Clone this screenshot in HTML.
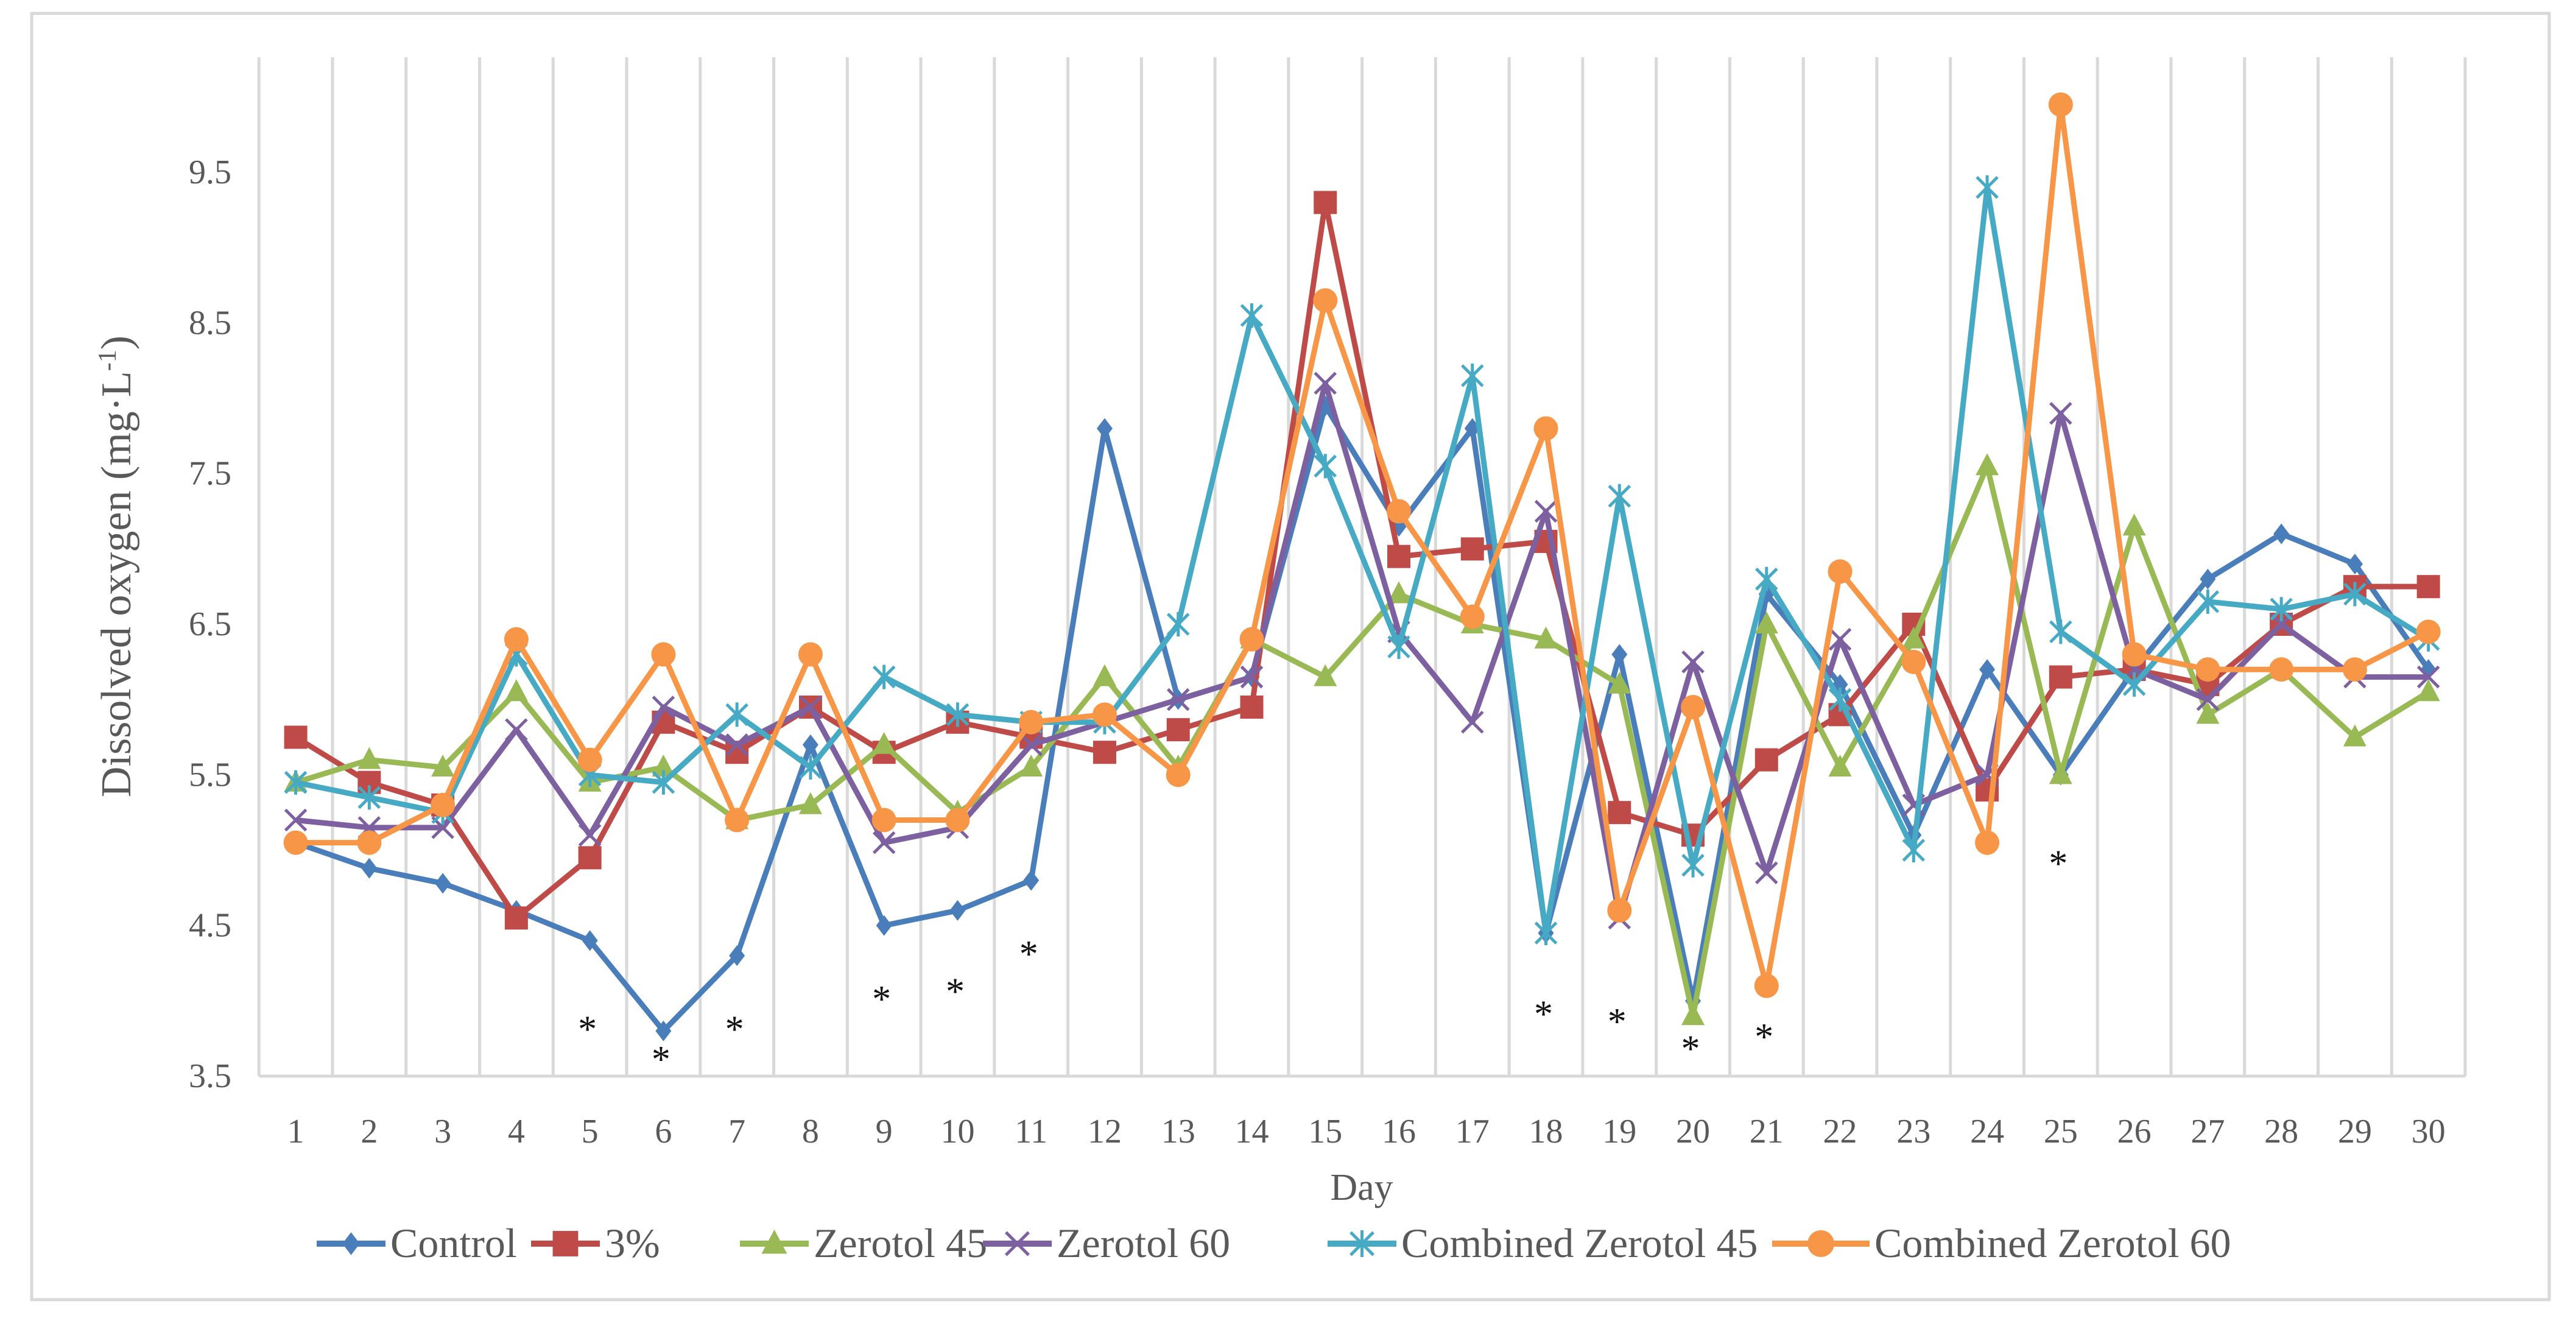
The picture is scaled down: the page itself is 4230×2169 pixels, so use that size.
<!DOCTYPE html>
<html><head><meta charset="utf-8"><style>
html,body{margin:0;padding:0;background:#fff;}
svg{display:block;font-family:"Liberation Serif",serif;}
</style></head><body>
<svg id="chart" width="4230" height="2169" viewBox="0 0 4230 2169" xmlns="http://www.w3.org/2000/svg">
<rect x="52" y="22" width="4134" height="2112" fill="#fff" stroke="#d9d9d9" stroke-width="5"/>
<g id="grid"></g><g id="axes"></g><g id="series"></g><g id="stars"></g><g id="legend"></g>
<text transform="translate(214,930) rotate(-90)" text-anchor="middle" font-size="70" fill="#595959">Dissolved oxygen (mg·L<tspan dy="-24" font-size="42">-1</tspan><tspan dy="24">)</tspan></text>
<text x="2236" y="1970" text-anchor="middle" font-size="62" fill="#595959">Day</text>
</svg>
<script>
const days = [1,2,3,4,5,6,7,8,9,10,11,12,13,14,15,16,17,18,19,20,21,22,23,24,25,26,27,28,29,30];
const yTicks = [3.5,4.5,5.5,6.5,7.5,8.5,9.5];
const seriesNames = ["Control","3%","Zerotol 45","Zerotol 60","Combined Zerotol 45","Combined Zerotol 60"];
const control = [5.05,4.88,4.78,4.6,4.4,3.8,4.3,5.7,4.5,4.6,4.8,7.8,6.0,6.15,7.95,7.15,7.8,4.45,6.3,4.0,6.7,6.1,5.1,6.2,5.5,6.2,6.8,7.1,6.9,6.2];
const pct3 = [5.75,5.45,5.3,4.55,4.95,5.85,5.65,5.95,5.65,5.85,5.75,5.65,5.8,5.95,9.3,6.95,7.0,7.05,5.25,5.1,5.6,5.9,6.5,5.4,6.15,6.2,6.1,6.5,6.75,6.75];
const zerotol45 = [5.45,5.6,5.55,6.05,5.45,5.55,5.2,5.3,5.7,5.25,5.55,6.15,5.55,6.4,6.15,6.7,6.5,6.4,6.1,3.9,6.5,5.55,6.4,7.55,5.5,7.15,5.9,6.2,5.75,6.05];
const zerotol60 = [5.2,5.15,5.15,5.8,5.1,5.95,5.7,5.95,5.05,5.15,5.7,5.85,6.0,6.15,8.1,6.45,5.85,7.25,4.55,6.25,4.85,6.4,5.3,5.5,7.9,6.2,6.0,6.5,6.15,6.15];
const combined45 = [5.45,5.35,5.25,6.3,5.5,5.45,5.9,5.55,6.15,5.9,5.85,5.85,6.5,8.55,7.55,6.35,8.15,4.45,7.35,4.9,6.8,6.0,5.0,9.4,6.45,6.1,6.65,6.6,6.7,6.4];
const combined60 = [5.05,5.05,5.3,6.4,5.6,6.3,5.2,6.3,5.2,5.2,5.85,5.9,5.5,6.4,8.65,7.25,6.55,7.8,4.6,5.95,4.1,6.85,6.25,5.05,9.95,6.3,6.2,6.2,6.2,6.45];
const starDays = [5,6,7,9,10,11,18,19,20,21,25];
const starValues = [3.85,3.65,3.85,4.05,4.1,4.35,3.95,3.9,3.72,3.8,4.95];

const NS="http://www.w3.org/2000/svg";
const X0=485.6, DX=120.76, Y0=1767, PY=(1767-283)/6;
const xs=d=>X0+(d-1)*DX;
const ys=v=>Y0-(v-3.5)*PY;
function mk(tag,attrs,parent){const e=document.createElementNS(NS,tag);for(const k in attrs)e.setAttribute(k,attrs[k]);parent.appendChild(e);return e;}
const grid=document.getElementById('grid'),axes=document.getElementById('axes'),ser=document.getElementById('series'),stars=document.getElementById('stars'),leg=document.getElementById('legend');
for(let i=0;i<=days.length;i++){
  const x=X0-DX/2+i*DX;
  const l=mk('line',{x1:x,x2:x,y1:94,y2:Y0,stroke:'#d9d9d9','stroke-width':5},grid);
  
  
}
const ax=mk('line',{x1:X0-DX/2,x2:X0-DX/2+days.length*DX,y1:Y0,y2:Y0,stroke:'#d9d9d9','stroke-width':5},axes);


yTicks.forEach(v=>{
  const t=mk('text',{x:380,y:ys(v)+18,'text-anchor':'end','font-size':56,fill:'#595959'},axes);t.textContent=v.toFixed(1);
  
  
});
days.forEach(d=>{
  const t=mk('text',{x:xs(d),y:1876,'text-anchor':'middle','font-size':56,fill:'#595959'},axes);t.textContent=d;
  
  
});
const colors=['#4a7ebb','#be4b48','#98b954','#7d60a0','#46aac5','#f79646'];
const data=[control,pct3,zerotol45,zerotol60,combined45,combined60];
const markers=['diamond','square','triangle','x','star','circle'];
function marker(type,x,y,c,g,s){
  s=s||1;
  if(type==='diamond')return mk('path',{d:`M${x} ${y-17*s}L${x+13*s} ${y}L${x} ${y+17*s}L${x-13*s} ${y}Z`,fill:c},g);
  if(type==='square')return mk('rect',{x:x-19*s,y:y-19*s,width:38*s,height:38*s,fill:c},g);
  if(type==='triangle')return mk('path',{d:`M${x} ${y-21*s}L${x+19*s} ${y+15*s}L${x-19*s} ${y+15*s}Z`,fill:c},g);
  if(type==='x')return mk('path',{d:`M${x-17*s} ${y-17*s}L${x+17*s} ${y+17*s}M${x+17*s} ${y-17*s}L${x-17*s} ${y+17*s}`,stroke:c,'stroke-width':5,fill:'none'},g);
  if(type==='star')return mk('path',{d:`M${x-17*s} ${y-17*s}L${x+17*s} ${y+17*s}M${x+17*s} ${y-17*s}L${x-17*s} ${y+17*s}M${x} ${y-20*s}L${x} ${y+20*s}`,stroke:c,'stroke-width':5,fill:'none'},g);
  return mk('circle',{cx:x,cy:y,r:20*s,fill:c},g);
}
data.forEach((arr,si)=>{
  const g=mk('g',{},ser);
  
  
  const p=mk('polyline',{points:arr.map((v,i)=>xs(days[i])+','+ys(v)).join(' '),fill:'none',stroke:colors[si],'stroke-width':9,'stroke-linejoin':'round'},g);
  
  
  arr.forEach((v,i)=>{
    const m=marker(markers[si],xs(days[i]),ys(v),colors[si],g);
    
    
  });
});
starDays.forEach((d,i)=>{
  const t=mk('text',{x:xs(d)-4,y:ys(starValues[i])+30,'text-anchor':'middle','font-size':62,fill:'#111'},stars);t.textContent='*';
  
  
});
const legX=[520,872,1215,1614,2180,2910];
seriesNames.forEach((n,i)=>{
  const g=mk('g',{},leg);
  
  
  const y=2042,x=legX[i],w=(i===5?160:113);
  mk('line',{x1:x,x2:x+w,y1:y,y2:y,stroke:colors[i],'stroke-width':10},g);
  marker(markers[i],x+w/2,y,colors[i],g,1.1);
  const t=mk('text',{x:x+w+8,y:y+22,'font-size':68,fill:'#595959'},g);t.textContent=n;
});
</script>
</body></html>
